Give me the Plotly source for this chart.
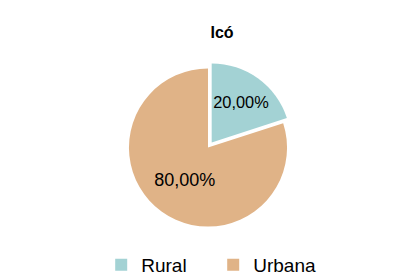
import plotly.graph_objects as go

title_text = "Icó"
categories = ["Rural", "Urbana"]
values = [20.0, 80.0]
colors = ["#a3d2d4", "#e0b387"]

labels_txt = [f"{v:.2f}%".replace(".", ",") for v in values]

fig = go.Figure(
    go.Pie(
        labels=categories,
        values=values,
        text=labels_txt,
        textinfo="text",
        textposition="inside",
        insidetextorientation="horizontal",
        textfont=dict(family="Liberation Sans, Arial, sans-serif", size=18, color="black"),
        marker=dict(colors=colors, line=dict(color="white", width=0)),
        sort=False,
        direction="clockwise",
        rotation=0,
        pull=[0.08, 0],
        hole=0,
        domain=dict(x=[0.05, 0.95], y=[0.17, 0.8]),
    )
)

fig.update_layout(
    width=400,
    height=276,
    margin=dict(l=0, r=0, t=0, b=0),
    paper_bgcolor="white",
    plot_bgcolor="white",
    title=dict(
        text=f"<b>{title_text}</b>",
        x=0.535,
        xanchor="center",
        y=0.91,
        yanchor="middle",
        font=dict(family="Liberation Sans, Arial, sans-serif", size=16, color="black"),
    ),
    legend=dict(
        orientation="h",
        x=0.233,
        xanchor="left",
        y=0.05,
        yanchor="middle",
        font=dict(family="Liberation Sans, Arial, sans-serif", size=19, color="black"),
        itemwidth=30,
        entrywidth=67,
        entrywidthmode="pixels",
    ),
    showlegend=True,
)

fig.write_html("out.html")
